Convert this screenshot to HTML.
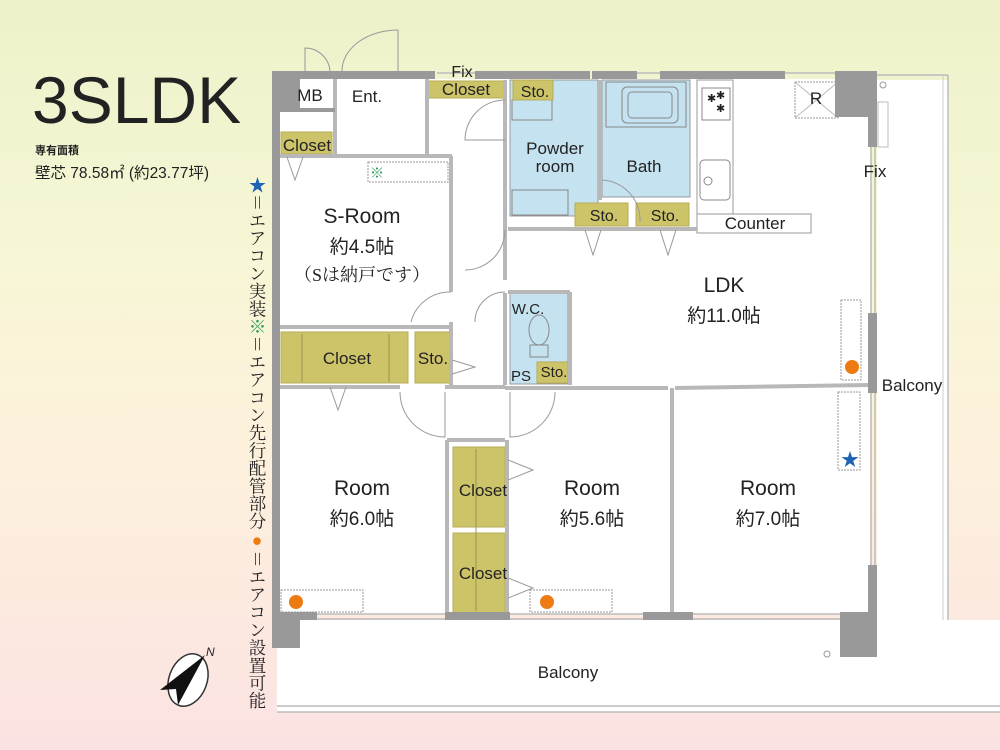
<!DOCTYPE html>
<html><head><meta charset="utf-8"><style>
html,body{margin:0;padding:0;width:1000px;height:750px;overflow:hidden}
body{background:linear-gradient(180deg,#edf2c9 0%,#f7f6d6 35%,#fdf1dc 60%,#fbe2e2 100%)}
svg{position:absolute;left:0;top:0}
text{font-family:"Liberation Sans","Noto Sans CJK JP",sans-serif;fill:#222}
.v{position:absolute;left:246px;top:176px;writing-mode:vertical-rl;font-family:"Liberation Serif","Noto Serif CJK SC",serif;font-size:17.5px;line-height:22px;color:#222;letter-spacing:0.2px}
</style></head><body>
<svg width="1000" height="750" viewBox="0 0 1000 750">
<!-- title -->
<text x="32" y="123" font-size="66" style="font-family:'Liberation Sans',sans-serif" fill="#222">3SLDK</text>
<text x="35" y="154" font-size="11" font-weight="bold">専有面積</text>
<text x="35" y="178" font-size="15.5">壁芯 78.58㎡ (約23.77坪)</text>

<!-- balconies -->
<rect x="277" y="620" width="723" height="92" fill="#fff"/>
<rect x="877" y="80" width="72" height="540" fill="#fff"/>
<line x1="277" y1="706" x2="1000" y2="706" stroke="#bbb" stroke-width="1.5"/>
<line x1="277" y1="712" x2="1000" y2="712" stroke="#bbb" stroke-width="1.5"/>
<line x1="948" y1="75" x2="948" y2="620" stroke="#bbb" stroke-width="1.5"/>
<line x1="943" y1="75" x2="943" y2="620" stroke="#ccc" stroke-width="1"/>
<line x1="877" y1="75" x2="948" y2="75" stroke="#bbb" stroke-width="1.5"/>
<rect x="878" y="102" width="10" height="45" fill="none" stroke="#bbb"/>
<circle cx="883" cy="85" r="3" fill="none" stroke="#999"/>
<circle cx="827" cy="654" r="3" fill="none" stroke="#999"/>

<!-- interior floor -->
<rect x="280" y="79" width="590" height="535" fill="#fff"/>

<!-- blue rooms -->
<rect x="510" y="80" width="88" height="136" fill="#c5e2f1" stroke="#999"/>
<rect x="602" y="80" width="88" height="117" fill="#c5e2f1" stroke="#999"/>
<rect x="606" y="82" width="80" height="45" fill="none" stroke="#888"/>
<rect x="622" y="87" width="56" height="36" rx="5" fill="none" stroke="#888"/>
<rect x="628" y="92" width="44" height="26" rx="4" fill="none" stroke="#888"/>
<rect x="512" y="190" width="56" height="25" fill="none" stroke="#888"/>
<rect x="512" y="100" width="40" height="20" fill="none" stroke="#888"/>
<rect x="510" y="292" width="58" height="92" fill="#c5e2f1" stroke="#999"/>
<ellipse cx="539" cy="330" rx="10" ry="15" fill="none" stroke="#888"/>
<rect x="530" y="345" width="18" height="12" fill="none" stroke="#888"/>

<!-- yellow closets -->
<g fill="#cdc46a" stroke="#b5ad55">
<rect x="428" y="81" width="77" height="17"/>
<rect x="513" y="80" width="40" height="20"/>
<rect x="281" y="132" width="51" height="22"/>
<rect x="281" y="332" width="127" height="51"/>
<rect x="415" y="332" width="35" height="51"/>
<rect x="575" y="203" width="53" height="23"/>
<rect x="636" y="203" width="53" height="23"/>
<rect x="537" y="362" width="31" height="21"/>
<rect x="453" y="447" width="52" height="80"/>
<rect x="453" y="533" width="52" height="80"/>
</g>
<g stroke="#9c9450" stroke-width="1" fill="none">
<line x1="302" y1="334" x2="302" y2="382"/><line x1="389" y1="334" x2="389" y2="382"/>
<line x1="476" y1="449" x2="476" y2="611"/>
</g>

<!-- kitchen -->
<rect x="697" y="80" width="36" height="134" fill="#fff" stroke="#999"/>
<rect x="702" y="88" width="28" height="32" fill="none" stroke="#888"/>
<text x="707" y="102" font-size="11" fill="#666">✱</text><text x="716" y="99" font-size="11" fill="#666">✱</text><text x="716" y="112" font-size="11" fill="#666">✱</text>
<rect x="700" y="160" width="30" height="40" rx="4" fill="none" stroke="#888"/>
<circle cx="708" cy="181" r="4" fill="none" stroke="#888"/>
<rect x="697" y="214" width="114" height="19" fill="#fff" stroke="#999"/>
<rect x="795" y="82" width="43" height="36" fill="#fff" stroke="#999" stroke-dasharray="2,1"/>
<line x1="795" y1="82" x2="838" y2="118" stroke="#bbb"/><line x1="838" y1="82" x2="795" y2="118" stroke="#bbb"/>

<!-- interior partitions -->
<g stroke="#b8b8b8" stroke-width="4" fill="none">
<line x1="335" y1="79" x2="335" y2="155"/>
<line x1="427" y1="79" x2="427" y2="155"/>
<line x1="280" y1="156" x2="452" y2="156"/>
<line x1="451" y1="156" x2="451" y2="292"/>
<line x1="451" y1="322" x2="451" y2="385"/>
<line x1="280" y1="327" x2="452" y2="327"/>
<line x1="280" y1="387" x2="400" y2="387"/>
<line x1="445" y1="387" x2="505" y2="387"/>
<line x1="505" y1="80" x2="505" y2="280"/>
<line x1="505" y1="293" x2="505" y2="385"/>
<line x1="505" y1="388" x2="668" y2="388"/>
<line x1="675" y1="388" x2="868" y2="385"/>
<line x1="600" y1="80" x2="600" y2="200"/>
<line x1="508" y1="229" x2="697" y2="229"/>
<line x1="570" y1="292" x2="570" y2="385"/>
<line x1="508" y1="292" x2="570" y2="292"/>
<line x1="447" y1="440" x2="447" y2="614"/>
<line x1="447" y1="440" x2="505" y2="440"/>
<line x1="507" y1="440" x2="507" y2="614"/>
<line x1="672" y1="388" x2="672" y2="614"/>
</g>
<!-- doors -->
<g stroke="#999" stroke-width="1" fill="none">
<path d="M305 71 L305 48 A25 25 0 0 1 330 71"/>
<path d="M398 71 L398 30 A56 41 0 0 0 342 71"/>
<path d="M505 100 A40 40 0 0 0 465 140 L505 140"/>
<path d="M451 292 A40 40 0 0 0 411 322"/>
<path d="M505 230 A40 40 0 0 1 465 270"/>
<path d="M505 292 A30 30 0 0 0 475 322"/>
<path d="M400 392 A45 45 0 0 0 445 437 L445 392"/>
<path d="M555 392 A45 45 0 0 1 510 437 L510 392"/>
<path d="M602 180 A40 40 0 0 1 640 222"/>
<path d="M287 157 L295 180 L303 157"/><path d="M330 387 L338 410 L346 387"/>
<path d="M585 230 L593 255 L601 230"/><path d="M660 230 L668 255 L676 230"/>
<path d="M452 360 L475 367 L452 374"/>
<path d="M508 460 L533 470 L508 480"/><path d="M508 578 L533 588 L508 598"/>
<rect x="281" y="590" width="82" height="22" stroke-dasharray="2,1"/>
<rect x="530" y="590" width="82" height="22" stroke-dasharray="2,1"/>
<rect x="841" y="300" width="20" height="80" stroke-dasharray="2,1"/>
<rect x="838" y="392" width="22" height="78" stroke-dasharray="2,1"/>
<rect x="368" y="162" width="80" height="20" stroke-dasharray="2,1"/>
</g>

<!-- outer walls -->
<g fill="#999">
<rect x="272" y="71" width="8" height="577"/>
<rect x="272" y="71" width="155" height="8"/>
<rect x="280" y="79" width="20" height="31"/>
<rect x="280" y="108" width="55" height="4"/>
<rect x="427" y="71" width="8" height="8"/>
<rect x="475" y="71" width="30" height="8"/>
<rect x="505" y="71" width="85" height="8"/>
<rect x="592" y="71" width="45" height="8"/>
<rect x="660" y="71" width="125" height="8"/>
<rect x="835" y="71" width="42" height="46"/>
<rect x="868" y="117" width="9" height="30"/>
<rect x="868" y="313" width="9" height="80"/>
<rect x="868" y="565" width="9" height="55"/>
<rect x="840" y="612" width="37" height="45"/>
<rect x="272" y="612" width="45" height="8"/>
<rect x="272" y="612" width="28" height="36"/>
<rect x="445" y="612" width="65" height="8"/>
<rect x="643" y="612" width="50" height="8"/>
</g>
<g stroke="#bbb" fill="none" stroke-width="1.5">
<line x1="317" y1="614" x2="445" y2="614"/><line x1="317" y1="619" x2="445" y2="619"/>
<line x1="510" y1="614" x2="643" y2="614"/><line x1="510" y1="619" x2="643" y2="619"/>
<line x1="693" y1="614" x2="840" y2="614"/><line x1="693" y1="619" x2="840" y2="619"/>
<line x1="871" y1="147" x2="871" y2="313"/><line x1="875" y1="147" x2="875" y2="313"/>
<line x1="871" y1="393" x2="871" y2="565"/><line x1="875" y1="393" x2="875" y2="565"/>
<line x1="437" y1="73" x2="475" y2="73"/><line x1="637" y1="73" x2="660" y2="73"/><line x1="785" y1="73" x2="835" y2="73"/>
</g>

<!-- markers -->
<circle cx="852" cy="367" r="7" fill="#ee7a12"/>
<circle cx="296" cy="602" r="7" fill="#ee7a12"/>
<circle cx="547" cy="602" r="7" fill="#ee7a12"/>
<text x="841" y="466" font-size="18" style="fill:#1f63b4">★</text>
<text x="370" y="178" font-size="14" style="fill:#2a9a5a">※</text>

<!-- labels -->
<g font-size="17" text-anchor="middle">
<text x="310" y="101">MB</text>
<text x="367" y="102">Ent.</text>
<text x="462" y="77" font-size="16">Fix</text>
<text x="466" y="95">Closet</text>
<text x="535" y="97" font-size="16">Sto.</text>
<text x="307" y="151">Closet</text>
<text x="555" y="154">Powder</text>
<text x="555" y="172">room</text>
<text x="644" y="172">Bath</text>
<text x="604" y="221" font-size="16">Sto.</text>
<text x="665" y="221" font-size="16">Sto.</text>
<text x="755" y="229">Counter</text>
<text x="816" y="104">R</text>
<text x="875" y="177">Fix</text>
<text x="362" y="223" font-size="21">S-Room</text>
<text x="362" y="253" font-size="19">約4.5帖</text>
<text x="362" y="281" font-size="18" style="font-family:'Liberation Serif','Noto Serif CJK SC',serif">（Sは納戸です）</text>
<text x="724" y="292" font-size="21">LDK</text>
<text x="724" y="322" font-size="19">約11.0帖</text>
<text x="528" y="314" font-size="15">W.C.</text>
<text x="521" y="381" font-size="15">PS</text>
<text x="554" y="377" font-size="15">Sto.</text>
<text x="347" y="364">Closet</text>
<text x="433" y="364">Sto.</text>
<text x="912" y="391">Balcony</text>
<text x="362" y="495" font-size="21">Room</text>
<text x="362" y="525" font-size="19">約6.0帖</text>
<text x="592" y="495" font-size="21">Room</text>
<text x="592" y="525" font-size="19">約5.6帖</text>
<text x="768" y="495" font-size="21">Room</text>
<text x="768" y="525" font-size="19">約7.0帖</text>
<text x="483" y="496">Closet</text>
<text x="483" y="579">Closet</text>
<text x="568" y="678">Balcony</text>
</g>

<!-- compass -->
<ellipse cx="188" cy="680" rx="19" ry="27" transform="rotate(20 188 680)" fill="#fff" stroke="#333" stroke-width="1.5"/>
<path d="M205 655 L160 690 L176 689 L178 705 Z" fill="#111"/>
<text x="206" y="656" font-size="12" font-style="italic">N</text>
</svg>
<div class="v"><span style="color:#1f63b4">★</span>＝エアコン実装<span style="color:#2a9a5a">※</span>＝エアコン先行配管部分<span style="color:#ee7a12">●</span>＝エアコン設置可能</div>
</body></html>
